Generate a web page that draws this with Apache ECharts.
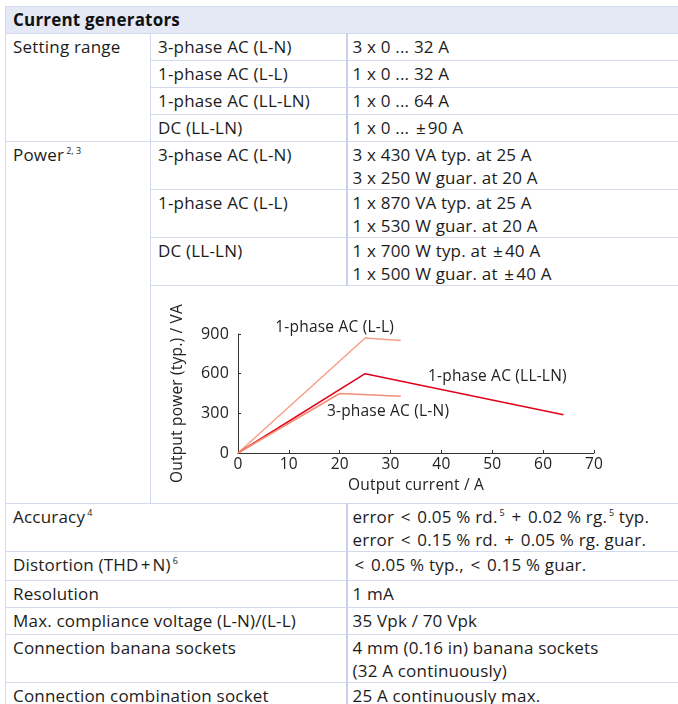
<!DOCTYPE html>
<html>
<head>
<meta charset="utf-8">
<title>Current generators</title>
<script src="https://cdn.jsdelivr.net/npm/echarts@6/dist/echarts.min.js"></script>
<style>
  html, body { margin: 0; padding: 0; background: #fff; }
  body { width: 678px; height: 704px; overflow: hidden; position: relative; }
  table.spec {
    position: absolute; left: 5px; top: 6px; width: 673px;
    border-collapse: collapse; table-layout: fixed;
    font-family: "Open Sans", sans-serif; font-size: 17px; letter-spacing: 0.2px; color: #1c1c1c;
  }
  table.spec td {
    border: 1px solid #d3daee; padding: 1px 7px 0 7px;
    vertical-align: top; line-height: 23px; white-space: nowrap; overflow: hidden;
  }
  table.spec tr.head td { background: #e5e8f5; font-weight: bold; color: #111; padding-top: 1px; }
  table.spec td.val { border-left: 2px solid #c9d1ea; padding-left: 5px; }
  table.spec td.chartcell { padding: 0; }
  .sup { font-size: 9px; line-height: 0; vertical-align: 7px; padding-left: 2px; letter-spacing: 0; }
  .op { padding: 0 2px; }
  #chart { width: 527px; height: 217px; }
</style>
</head>
<body>
<table class="spec">
  <colgroup><col style="width:145px"><col style="width:196px"><col style="width:332px"></colgroup>
  <tr class="head" style="height:27px"><td colspan="3">Current generators</td></tr>
  <tr style="height:27px"><td rowspan="4">Setting range</td><td>3-phase AC (L-N)</td><td class="val">3 x 0 ... 32 A</td></tr>
  <tr style="height:27px"><td>1-phase AC (L-L)</td><td class="val">1 x 0 ... 32 A</td></tr>
  <tr style="height:27px"><td>1-phase AC (LL-LN)</td><td class="val">1 x 0 ... 64 A</td></tr>
  <tr style="height:27px"><td>DC (LL-LN)</td><td class="val">1 x 0 ... <span class="op">&plusmn;</span>90 A</td></tr>
  <tr style="height:48px"><td rowspan="4">Power<span class="sup">2, 3</span></td><td>3-phase AC (L-N)</td><td class="val">3 x 430 VA typ. at 25 A<br>3 x 250 W guar. at 20 A</td></tr>
  <tr style="height:48px"><td>1-phase AC (L-L)</td><td class="val">1 x 870 VA typ. at 25 A<br>1 x 530 W guar. at 20 A</td></tr>
  <tr style="height:48px"><td>DC (LL-LN)</td><td class="val">1 x 700 W typ. at <span class="op">&plusmn;</span>40 A<br>1 x 500 W guar. at <span class="op">&plusmn;</span>40 A</td></tr>
  <tr style="height:218px"><td colspan="2" class="chartcell"><div id="chart"></div></td></tr>
  <tr style="height:48px"><td colspan="2">Accuracy<span class="sup">4</span></td><td class="val">error <span class="op">&lt;</span> 0.05 % rd.<span class="sup">5</span> <span class="op">+</span> 0.02 % rg.<span class="sup">5</span> typ.<br>error <span class="op">&lt;</span> 0.15 % rd. <span class="op">+</span> 0.05 % rg. guar.</td></tr>
  <tr style="height:29px"><td colspan="2">Distortion (THD<span class="op">+</span>N)<span class="sup">6</span></td><td class="val"><span class="op">&lt;</span> 0.05 % typ., <span class="op">&lt;</span> 0.15 % guar.</td></tr>
  <tr style="height:27px"><td colspan="2">Resolution</td><td class="val">1 mA</td></tr>
  <tr style="height:27px"><td colspan="2">Max. compliance voltage (L-N)/(L-L)</td><td class="val">35 Vpk / 70 Vpk</td></tr>
  <tr style="height:48px"><td colspan="2">Connection banana sockets</td><td class="val">4 mm (0.16 in) banana sockets<br>(32 A continuously)</td></tr>
  <tr style="height:27px"><td colspan="2">Connection combination socket</td><td class="val">25 A continuously max.</td></tr>
</table>

<script>
// output power curves
const currentLL = [0, 25, 32];
const powerLL = [0, 870, 850];
const currentLLLN = [0, 25, 64];
const powerLLLN = [0, 600, 290];
const currentLN = [0, 20, 32];
const powerLN = [0, 450, 430];
const seriesNames = ["1-phase AC (L-L)", "1-phase AC (LL-LN)", "3-phase AC (L-N)"];
// where each curve's name sits, in axis units
const labelAnchors = [[19, 950], [51, 580], [29.5, 312]];

const pairs = (xs, ys) => xs.map((x, i) => [x, ys[i]]);

function curve(name, xs, ys, color) {
  return {
    name,
    type: "line",
    data: pairs(xs, ys),
    symbol: "none",
    lineStyle: { color, width: 1.5 },
  };
}

const axisText = { color: "#222", fontSize: 15.5, fontFamily: "Open Sans" };

const chart = echarts.init(document.getElementById("chart"));
chart.setOption({
  animation: false,
  textStyle: { fontFamily: "Open Sans" },
  grid: { left: 87, right: 84, top: 48, bottom: 50 },
  xAxis: {
    type: "value",
    min: 0, max: 70, interval: 10,
    name: "Output current / A",
    nameLocation: "middle",
    nameGap: 24,
    nameTextStyle: axisText,
    axisLine: { lineStyle: { color: "#333", width: 1 } },
    axisTick: { inside: true, length: 3, lineStyle: { color: "#333" } },
    axisLabel: Object.assign({ margin: 4 }, axisText),
    splitLine: { show: false },
  },
  yAxis: {
    type: "value",
    min: 0, max: 900, interval: 300,
    name: "Output power (typ.) / VA",
    nameLocation: "middle",
    nameGap: 52,
    nameTextStyle: axisText,
    axisLine: { show: true, lineStyle: { color: "#333", width: 1 } },
    axisTick: { show: true, inside: true, length: 3, lineStyle: { color: "#333" } },
    axisLabel: Object.assign({ margin: 9 }, axisText, { fontSize: 16 }),
    splitLine: { show: false },
  },
  series: [
    curve(seriesNames[0], currentLL, powerLL, "#f5a088"),
    curve(seriesNames[1], currentLLLN, powerLLLN, "#e3001b"),
    curve(seriesNames[2], currentLN, powerLN, "#f28f76"),
  ],
});

// curve names as free text next to the lines
chart.setOption({
  graphic: seriesNames.map((name, i) => {
    const [px, py] = chart.convertToPixel({ gridIndex: 0 }, labelAnchors[i]);
    return {
      type: "text",
      x: px, y: py,
      style: { text: name, fill: "#222", align: "center", verticalAlign: "middle", fontSize: 15.5, fontFamily: "Open Sans" },
    };
  }),
});
</script>
</body>
</html>
